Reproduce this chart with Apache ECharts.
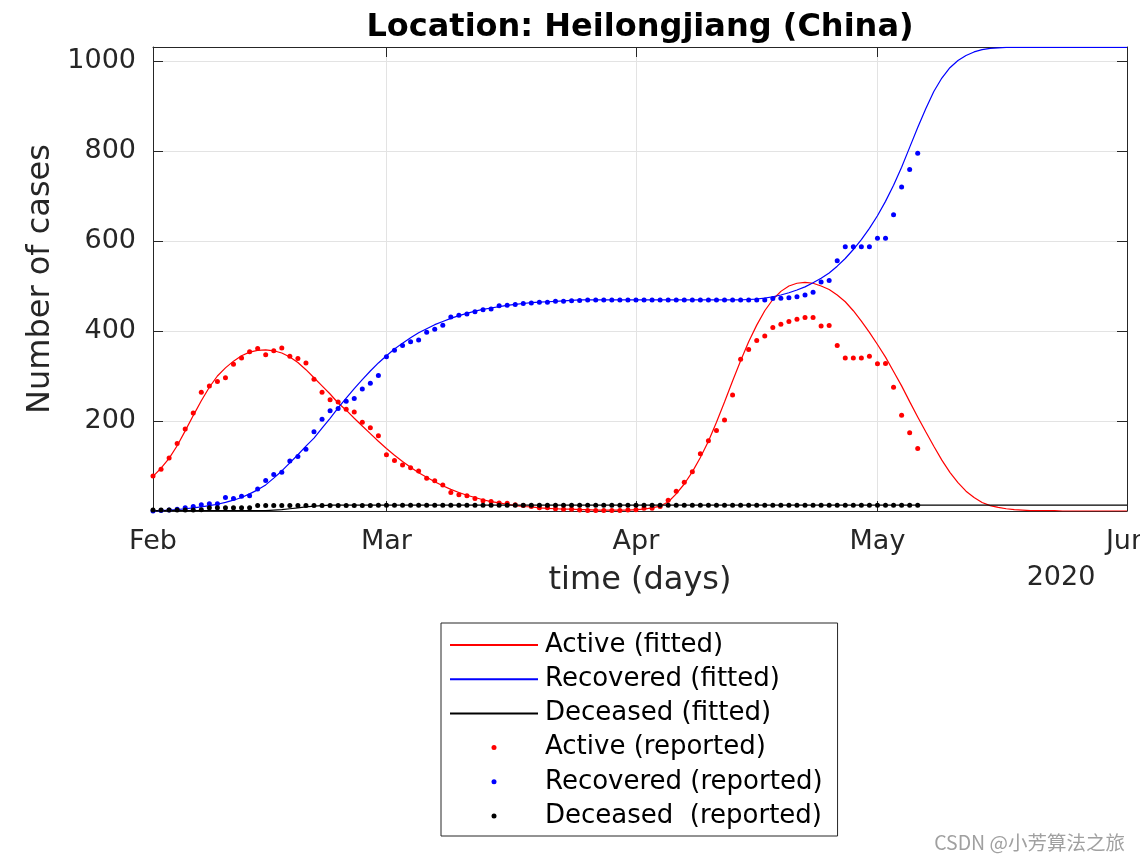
<!DOCTYPE html>
<html><head><meta charset="utf-8">
<script src="https://cdn.jsdelivr.net/npm/echarts@6/dist/echarts.min.js"></script>
<style>html,body{margin:0;padding:0;background:#fff}#c{width:1140px;height:862px}</style>
</head><body><div id="c"></div>
<script>
// Day index 0 = 2020-02-01
const monthTickDays = [0, 29, 60, 90, 121];
const monthTickLabels = ['Feb', 'Mar', 'Apr', 'May', 'Jun'];
const yTickValues = [200, 400, 600, 800, 1000];

const activeReported = [78,93,118,150,182,218,264,278,288,296,326,340,354,361,347,356,362,344,339,329,
  293,264,247,242,226,220,197,185,167,125,112,102,96,89,73,67,58,41,36,34,
  28,23,21,18,17,14,12,10,7,7,5,4,4,2,1,1,1,1,1,2,
  3,6,6,10,24,44,64,87,127,156,179,202,258,337,359,379,389,408,415,421,
  426,430,430,411,412,368,340,340,340,344,327,328,275,213,174,139];

const recoveredReported = [0,1,2,4,7,10,14,16,16,30,28,33,34,49,68,81,86,111,121,137,
  176,204,223,228,244,250,271,284,301,343,357,368,376,380,397,404,413,431,435,438,
  443,447,449,456,457,459,461,462,464,464,466,466,467,468,469,469,469,469,469,469,
  469,469,469,469,469,469,469,469,469,469,469,469,469,469,469,469,469,472,473,474,
  476,480,486,509,512,556,587,587,587,587,606,606,658,720,759,795];

const deceasedReported = [2,2,2,2,2,2,3,7,7,7,7,7,7,12,12,12,12,12,12,12,
  12,12,12,12,12,12,12,12,13,13,13,13,13,13,13,13,13,13,13,13,
  13,13,13,13,13,13,13,13,13,13,13,13,13,13,13,13,13,13,13,13,
  13,13,13,13,13,13,13,13,13,13,13,13,13,13,13,13,13,13,13,13,
  13,13,13,13,13,13,13,13,13,13,13,13,13,13,13,13];

const activeFitted = [77,95,117,145,178,212,245,275,300,318,333,345,353,357,358,356,351,342,330,314,
  296,278,260,240,224,206,189,172,155,139,124,110,97,85,75,65,56,48,41,35,
  30,25,21,18,15,12,10,9,7,6,5,4,4,3,3,2,2,2,2,2,
  3,4,7,11,20,38,60,87,119,155,197,242,289,334,376,413,445,470,488,500,
  506,508,506,500,492,480,465,445,422,397,370,342,310,278,243,209,176,144,113,86,
  63,44,30,19,12,8,5,3,2,1,1,1,1,0,0,0,0,0,0,0,
  0,0];

const recoveredFitted = [1,1,2,3,5,7,9,12,15,19,24,30,38,47,58,73,89,107,125,144,
  162,184,206,229,251,272,292,311,329,345,360,373,385,396,405,414,421,428,434,439,
  444,448,451,454,457,459,461,463,464,465,466,467,468,469,469,469,469,469,469,469,
  469,469,469,469,469,469,469,469,469,469,469,469,469,469,470,471,473,476,480,485,
  491,498,507,517,529,544,561,581,603,628,656,688,724,764,808,852,894,932,962,985,
  1001,1012,1020,1025,1028,1029,1030,1030,1030,1030,1030,1030,1030,1030,1030,1030,1030,1030,1030,1030,
  1030,1030];

const deceasedFitted = [1,1,1,1,1,1,1,1,1,1,1,1,1,1,1,2,3,5,7,9,
  11,12,13,13,13,13,13,13,13,13,13,13,13,13,13,13,13,13,13,13,
  13,13,13,13,13,13,13,13,13,13,13,13,13,13,13,13,13,13,13,13,
  13,13,13,13,13,13,13,13,13,13,13,13,13,13,13,13,13,13,13,13,
  13,13,13,13,13,13,13,13,13,13,13,13,13,13,13,13,13,13,13,13,
  13,13,13,13,13,13,13,13,13,13,13,13,13,13,13,13,13,13,13,13,
  13,13];

const seriesNames = ['Active (fitted)', 'Recovered (fitted)', 'Deceased (fitted)',
  'Active (reported)', 'Recovered (reported)', 'Deceased  (reported)'];

const toXY = arr => arr.map((v, i) => [i, v]);
const FONT = 'DejaVu Sans';
const AX = '#262626';

const chart = echarts.init(document.getElementById('c'), null, {renderer: 'canvas'});

function lineSeries(name, data, color) {
  return {name, type: 'line', data: toXY(data), symbol: 'none', showSymbol: false,
    lineStyle: {color, width: 1.2}, itemStyle: {color}, clip: true, z: 2};
}
function dotSeries(name, data, color) {
  return {name, type: 'scatter', data: toXY(data), symbol: 'circle', symbolSize: 5,
    itemStyle: {color, opacity: 1}, z: 3};
}

chart.setOption({
  animation: false,
  backgroundColor: '#fff',
  grid: {left: 153, right: 13, top: 47, bottom: 351, containLabel: false, outerBoundsMode: 'none'},
  xAxis: [{
    type: 'value', min: 0, max: 121, position: 'bottom',
    axisLine: {show: true, onZero: false, lineStyle: {color: AX, width: 1}},
    axisTick: {show: true, inside: true, length: 10, customValues: monthTickDays, lineStyle: {color: AX}},
    axisLabel: {customValues: monthTickDays, formatter: v => monthTickLabels[monthTickDays.indexOf(v)],
      fontSize: 27, color: AX, fontFamily: FONT, margin: 17},
    splitLine: {show: true, lineStyle: {color: '#e3e3e3', width: 1}},
    name: 'time (days)', nameLocation: 'middle', nameGap: 54,
    nameTextStyle: {fontSize: 32, color: AX, fontFamily: FONT}
  }, {
    type: 'value', min: 0, max: 121, position: 'top',
    axisLine: {show: true, onZero: false, lineStyle: {color: AX, width: 1}},
    axisTick: {show: true, inside: true, length: 10, customValues: monthTickDays, lineStyle: {color: AX}},
    axisLabel: {show: false}, splitLine: {show: false}
  }],
  yAxis: [{
    type: 'value', min: 0, max: 1031, position: 'left',
    axisLine: {show: true, onZero: false, lineStyle: {color: AX, width: 1}},
    axisTick: {show: true, inside: true, length: 10, customValues: yTickValues, lineStyle: {color: AX}},
    axisLabel: {customValues: yTickValues, formatter: v => String(v), fontSize: 27, color: AX,
      fontFamily: FONT, margin: 17},
    splitLine: {show: true, lineStyle: {color: '#e3e3e3', width: 1}},
    name: 'Number of cases', nameLocation: 'middle', nameGap: 92,
    nameTextStyle: {fontSize: 32, color: AX, fontFamily: FONT}
  }, {
    type: 'value', min: 0, max: 1031, position: 'right',
    axisLine: {show: true, onZero: false, lineStyle: {color: AX, width: 1}},
    axisTick: {show: true, inside: true, length: 10, customValues: yTickValues, lineStyle: {color: AX}},
    axisLabel: {show: false}, splitLine: {show: false}
  }],
  legend: {
    orient: 'vertical', left: 441, top: 623, padding: [9, 15, 7, 8],
    itemWidth: 88, itemHeight: 5, itemGap: 8.2,
    borderColor: AX, borderWidth: 1, backgroundColor: '#fff', borderRadius: 0,
    textStyle: {fontSize: 26, color: '#000', fontFamily: FONT, padding: [0, 0, 0, 2]},
    data: seriesNames.map((n, i) => i < 3 ? {name: n, itemStyle: {opacity: 0}} : {name: n})
  },
  graphic: [
    {type: 'text', x: 640, y: 28, style: {text: 'Location: Heilongjiang (China)',
      font: 'bold 32px "DejaVu Sans"', fill: '#000', align: 'center', verticalAlign: 'middle'}},
    {type: 'text', x: 1061, y: 578, style: {text: '2020', font: '27px "DejaVu Sans"',
      fill: AX, align: 'center', verticalAlign: 'middle'}},
    {type: 'text', x: 1125, y: 843, style: {text: 'CSDN @小芳算法之旅',
      font: '19.5px "Noto Sans CJK SC"', fill: '#a0a0a0', align: 'right', verticalAlign: 'middle'}}
  ],
  series: [
    lineSeries(seriesNames[0], activeFitted, '#ff0000'),
    lineSeries(seriesNames[1], recoveredFitted, '#0000ff'),
    lineSeries(seriesNames[2], deceasedFitted, '#000000'),
    dotSeries(seriesNames[3], activeReported, '#ff0000'),
    dotSeries(seriesNames[4], recoveredReported, '#0000ff'),
    dotSeries(seriesNames[5], deceasedReported, '#000000')
  ]
});
</script></body></html>
